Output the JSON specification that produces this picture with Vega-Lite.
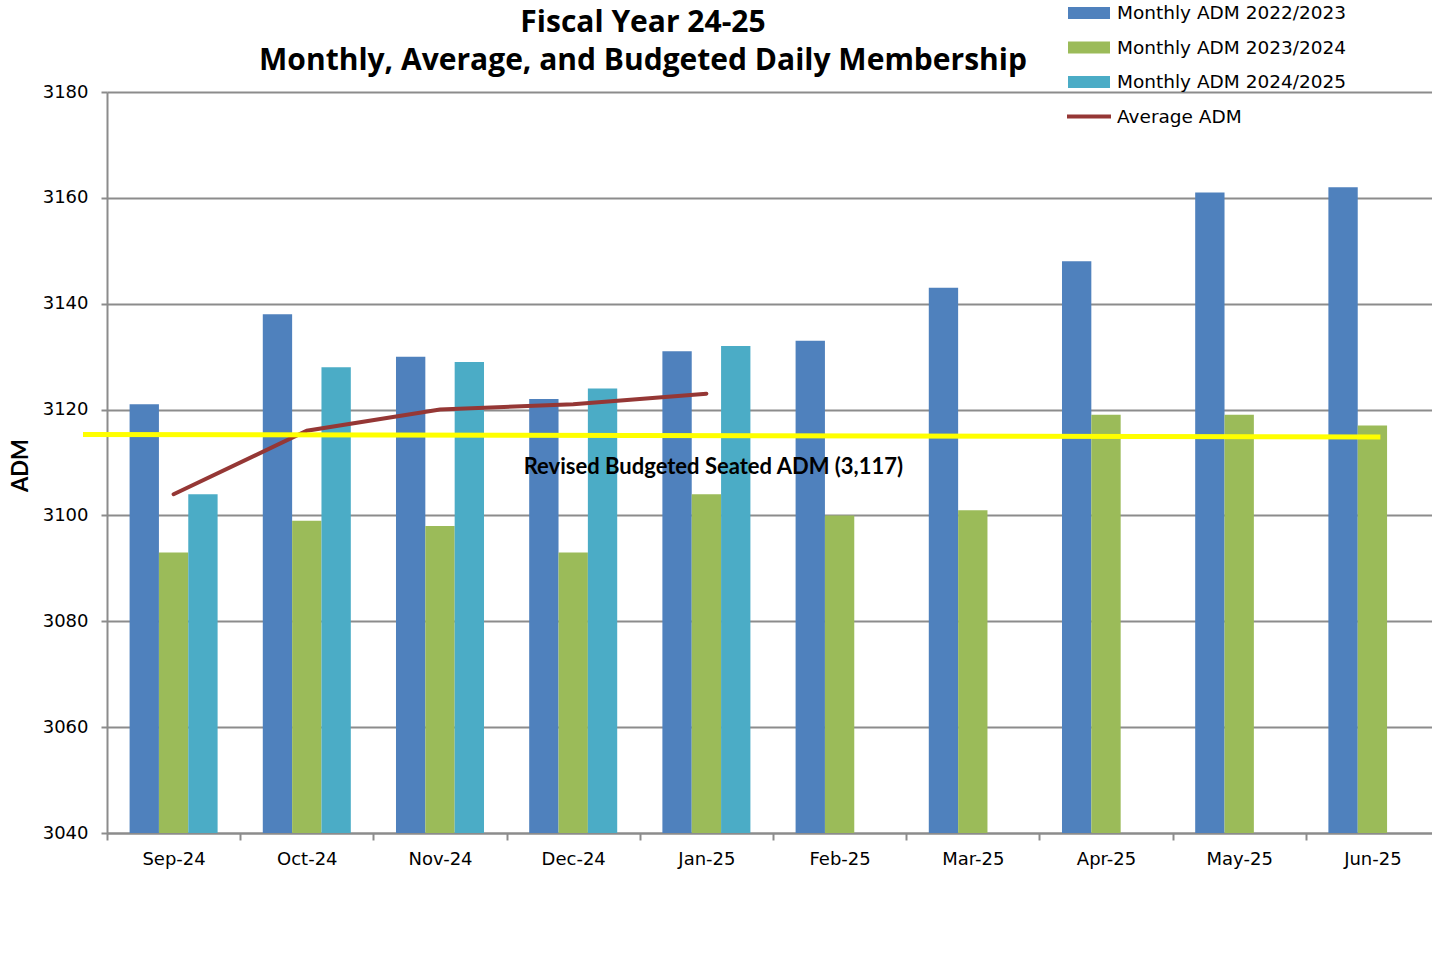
{
  "$schema": "https://vega.github.io/schema/vega-lite/v6.json",
  "width": 1332,
  "height": 741,
  "autosize": {"type": "none"},
  "padding": {"left": 107, "top": 92, "right": -7, "bottom": 134},
  "background": "white",
  "config": {"view": {"stroke": null}},
  "title": {
    "text": ["Fiscal Year 24-25", "Monthly, Average, and Budgeted Daily Membership"],
    "font": "Open Sans",
    "fontSize": 30,
    "fontWeight": "bold",
    "color": "#000000",
    "anchor": "middle",
    "frame": "group",
    "dx": -130,
    "dy": 83,
    "lineHeight": 38,
    "offset": 10
  },
  "datasets": {
    "bars": [
      {"month": "Sep-24", "series": "Monthly ADM 2022/2023", "adm": 3121},
      {"month": "Oct-24", "series": "Monthly ADM 2022/2023", "adm": 3138},
      {"month": "Nov-24", "series": "Monthly ADM 2022/2023", "adm": 3130},
      {"month": "Dec-24", "series": "Monthly ADM 2022/2023", "adm": 3122},
      {"month": "Jan-25", "series": "Monthly ADM 2022/2023", "adm": 3131},
      {"month": "Feb-25", "series": "Monthly ADM 2022/2023", "adm": 3133},
      {"month": "Mar-25", "series": "Monthly ADM 2022/2023", "adm": 3143},
      {"month": "Apr-25", "series": "Monthly ADM 2022/2023", "adm": 3148},
      {"month": "May-25", "series": "Monthly ADM 2022/2023", "adm": 3161},
      {"month": "Jun-25", "series": "Monthly ADM 2022/2023", "adm": 3162},
      {"month": "Sep-24", "series": "Monthly ADM 2023/2024", "adm": 3093},
      {"month": "Oct-24", "series": "Monthly ADM 2023/2024", "adm": 3099},
      {"month": "Nov-24", "series": "Monthly ADM 2023/2024", "adm": 3098},
      {"month": "Dec-24", "series": "Monthly ADM 2023/2024", "adm": 3093},
      {"month": "Jan-25", "series": "Monthly ADM 2023/2024", "adm": 3104},
      {"month": "Feb-25", "series": "Monthly ADM 2023/2024", "adm": 3100},
      {"month": "Mar-25", "series": "Monthly ADM 2023/2024", "adm": 3101},
      {"month": "Apr-25", "series": "Monthly ADM 2023/2024", "adm": 3119},
      {"month": "May-25", "series": "Monthly ADM 2023/2024", "adm": 3119},
      {"month": "Jun-25", "series": "Monthly ADM 2023/2024", "adm": 3117},
      {"month": "Sep-24", "series": "Monthly ADM 2024/2025", "adm": 3104},
      {"month": "Oct-24", "series": "Monthly ADM 2024/2025", "adm": 3128},
      {"month": "Nov-24", "series": "Monthly ADM 2024/2025", "adm": 3129},
      {"month": "Dec-24", "series": "Monthly ADM 2024/2025", "adm": 3124},
      {"month": "Jan-25", "series": "Monthly ADM 2024/2025", "adm": 3132}
    ],
    "avg": [
      {"month": "Sep-24", "series": "Average ADM", "adm": 3104},
      {"month": "Oct-24", "series": "Average ADM", "adm": 3116},
      {"month": "Nov-24", "series": "Average ADM", "adm": 3120},
      {"month": "Dec-24", "series": "Average ADM", "adm": 3121},
      {"month": "Jan-25", "series": "Average ADM", "adm": 3123}
    ],
    "note": [
      {"month": "Jan-25", "adm": 3109.2, "label": "Revised Budgeted Seated ADM (3,117)"}
    ],
    "budget": [
      {"frac": -0.018, "adm": 3115.3},
      {"frac": 0.956, "adm": 3114.8}
    ]
  },
  "layer": [
    {
      "layer": [
        {
          "data": {"name": "bars"},
          "mark": {"type": "bar"},
          "encoding": {
            "x": {
              "field": "month",
              "type": "nominal",
              "sort": null,
              "scale": {
                "domain": ["Sep-24", "Oct-24", "Nov-24", "Dec-24", "Jan-25", "Feb-25", "Mar-25", "Apr-25", "May-25", "Jun-25"],
                "paddingInner": 0,
                "paddingOuter": 0
              },
              "axis": {
                "title": null,
                "labelAngle": 0,
                "labelFont": "DejaVu Sans",
                "labelFontSize": 18,
                "labelColor": "#000000",
                "labelPadding": 10,
                "tickBand": "extent",
                "tickSize": 7,
                "tickColor": "#8c8c8c",
                "tickWidth": 2,
                "domainColor": "#8c8c8c",
                "domainWidth": 2,
                "grid": false
              }
            },
            "xOffset": {
              "field": "series",
              "type": "nominal",
              "scale": {
                "domain": ["Monthly ADM 2022/2023", "Monthly ADM 2023/2024", "Monthly ADM 2024/2025"],
                "paddingInner": 0,
                "paddingOuter": 0.77
              }
            },
            "y": {
              "field": "adm",
              "type": "quantitative",
              "scale": {"domain": [3040, 3180], "zero": false, "nice": false},
              "axis": {
                "title": "ADM",
                "values": [3040, 3060, 3080, 3100, 3120, 3140, 3160, 3180],
                "format": "d",
                "labelFont": "DejaVu Sans",
                "labelFontSize": 18,
                "labelColor": "#000000",
                "labelPadding": 13,
                "tickSize": 6,
                "tickColor": "#8c8c8c",
                "tickWidth": 2,
                "domainColor": "#8c8c8c",
                "domainWidth": 2,
                "grid": true,
                "gridColor": "#8c8c8c",
                "gridWidth": 2,
                "titleFont": "Lato",
                "titleFontSize": 22,
                "titleFontWeight": "bold",
                "titleColor": "#000000",
                "titleAngle": -90,
                "titleX": -87,
                "titleY": 373,
                "titleAlign": "center",
                "titleBaseline": "middle"
              }
            },
            "y2": {"datum": 3040},
            "color": {
              "field": "series",
              "type": "nominal",
              "scale": {
                "domain": ["Monthly ADM 2022/2023", "Monthly ADM 2023/2024", "Monthly ADM 2024/2025", "Average ADM"],
                "range": ["#4F81BD", "#9BBB59", "#4BACC6", "#953735"]
              },
              "legend": {
                "title": null,
                "orient": "none",
                "legendX": 972,
                "legendY": -89,
                "padding": 0,
                "symbolSize": 400,
                "rowPadding": 14.5,
                "labelOffset": 18,
                "labelFont": "DejaVu Sans",
                "labelFontSize": 18.5,
                "labelColor": "#000000",
                "labelLimit": 400,
                "encode": {
                  "symbols": {
                    "update": {
                      "shape": {"signal": "datum.value === 'Average ADM' ? 'M-2.2,-0.2H2.2V0.2H-2.2Z' : 'M-2.1,-0.6H2.1V0.6H-2.1Z'"},
                      "fill": {"scale": "color", "field": "value"},
                      "fillOpacity": {"value": 1},
                      "opacity": {"value": 1},
                      "strokeWidth": {"value": 0}
                    }
                  }
                }
              }
            }
          }
        },
        {
          "data": {"name": "avg"},
          "mark": {"type": "line", "strokeWidth": 4, "strokeCap": "round"},
          "encoding": {
            "x": {"field": "month", "type": "nominal", "sort": null},
            "y": {"field": "adm", "type": "quantitative"},
            "color": {"field": "series", "type": "nominal"}
          }
        },
        {
          "data": {"name": "note"},
          "mark": {"type": "text", "font": "Lato", "fontWeight": "bold", "fontSize": 22, "dx": 7, "color": "#000000"},
          "encoding": {
            "x": {"field": "month", "type": "nominal", "sort": null},
            "y": {"field": "adm", "type": "quantitative"},
            "text": {"field": "label"}
          }
        }
      ]
    },
    {
      "data": {"name": "budget"},
      "mark": {"type": "line", "color": "#FFFF00", "strokeWidth": 5, "clip": false},
      "encoding": {
        "x": {"field": "frac", "type": "quantitative", "scale": {"domain": [0, 1], "zero": false, "nice": false}, "axis": null},
        "y": {"field": "adm", "type": "quantitative"}
      }
    }
  ],
  "resolve": {"scale": {"x": "independent"}}
}
